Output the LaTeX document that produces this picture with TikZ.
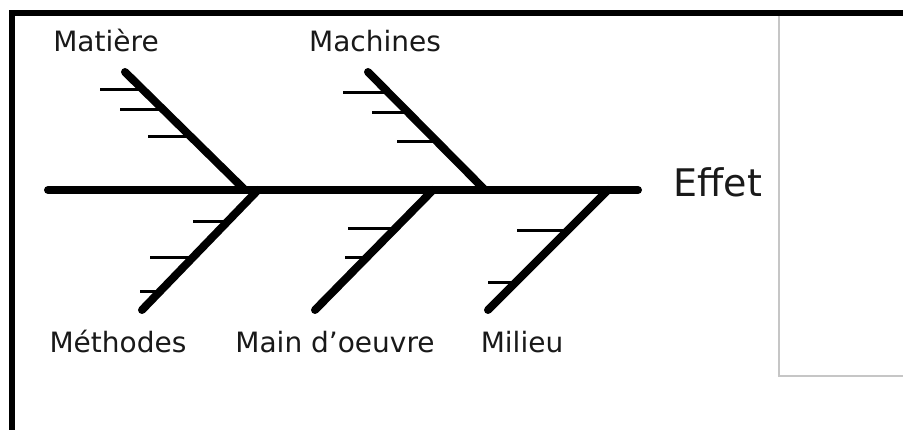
\documentclass[tikz,border=0pt]{standalone}
\usepackage{fontspec}
\setmainfont{DejaVu Sans}
\begin{document}
\begin{tikzpicture}[x=1pt,y=-1pt,
  bone/.style={line width=8pt,line cap=round},
  rib/.style={line width=3pt},
  lbl/.style={font=\fontsize{28}{34}\selectfont,text=black!90,anchor=base,inner sep=0pt},
]
\useasboundingbox (0,0) rectangle (903,430);
\fill[white] (0,0) rectangle (903,430);

% outer frame and side panel
\draw[line width=6pt] (12,430) -- (12,13) -- (903,13);
\draw[gray!45,line width=1.2pt] (779,16) -- (779,376) -- (903,376);

% spine
\coordinate (tail) at (48,190);
\coordinate (head) at (638,190);
\draw[bone] (tail) -- (head);

% upper bones
\coordinate (j1) at (245,190); \coordinate (m1) at (125,72);
\coordinate (j2) at (485,190); \coordinate (m2) at (368,72);
\draw[bone] (m1) -- (j1);
\draw[bone] (m2) -- (j2);

% lower bones
\coordinate (j3) at (258,190); \coordinate (b3) at (142,310);
\coordinate (j4) at (433,190); \coordinate (b4) at (315,310);
\coordinate (j5) at (608,190); \coordinate (b5) at (488,310);
\draw[bone] (j3) -- (b3);
\draw[bone] (j4) -- (b4);
\draw[bone] (j5) -- (b5);

% ribs: Matiere
\coordinate (r1a) at (100,90);  \coordinate (s1a) at (143,90);
\coordinate (r1b) at (120,110); \coordinate (s1b) at (164,110);
\coordinate (r1c) at (148,137); \coordinate (s1c) at (191,137);
% ribs: Machines
\coordinate (r2a) at (343,93);  \coordinate (s2a) at (389,93);
\coordinate (r2b) at (372,113); \coordinate (s2b) at (409,113);
\coordinate (r2c) at (397,142); \coordinate (s2c) at (437,142);
% ribs: Methodes
\coordinate (r3a) at (193,222); \coordinate (s3a) at (227,222);
\coordinate (r3b) at (150,258); \coordinate (s3b) at (192,258);
\coordinate (r3c) at (140,292); \coordinate (s3c) at (159,292);
% ribs: Main d'oeuvre
\coordinate (r4a) at (348,229); \coordinate (s4a) at (395,229);
\coordinate (r4b) at (345,258); \coordinate (s4b) at (366,258);
% ribs: Milieu
\coordinate (r5a) at (517,231); \coordinate (s5a) at (567,231);
\coordinate (r5b) at (488,283); \coordinate (s5b) at (515,283);

\foreach \r in {1a,1b,1c,2a,2b,2c,3a,3b,3c,4a,4b,5a,5b}
  \draw[rib] (r\r) -- (s\r);

% labels
\node[lbl] (matiere)  at (106,52)  {Matière};
\node[lbl] (machines) at (375,52)  {Machines};
\node[lbl] (methodes) at (118,353) {Méthodes};
\node[lbl] (maindo)   at (335,353) {Main d’oeuvre};
\node[lbl] (milieu)   at (522,353) {Milieu};
\node[lbl,font=\fontsize{38}{46}\selectfont] (effet) at (718,197) {Effet};
\end{tikzpicture}
\end{document}
